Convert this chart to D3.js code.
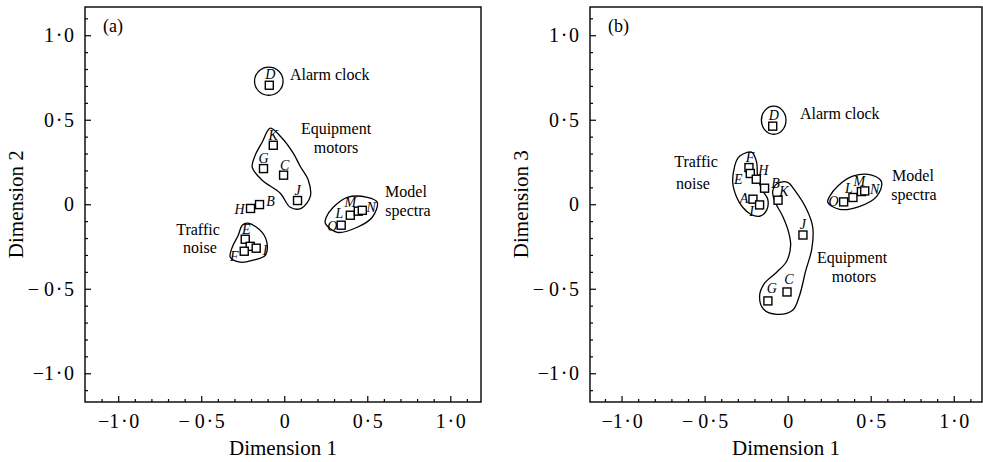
<!DOCTYPE html>
<html>
<head>
<meta charset="utf-8">
<script src="https://cdn.jsdelivr.net/npm/d3@7"></script>
<style>
  body { margin: 0; background: #fff; }
  svg text { font-family: "Liberation Serif", "Times New Roman", serif; fill: #000; }
</style>
</head>
<body>
<div id="chart"></div>
<script>
// ---- data ----
const majorTicks = [-1.0, -0.5, 0, 0.5, 1.0];
const tickLabels = ["\u22121\u200a\u00b7\u200a0", "\u2212 0\u200a\u00b7\u200a5", "0", "0\u200a\u00b7\u200a5", "1\u200a\u00b7\u200a0"];
const minorTicks = [-1.1, -0.9, -0.8, -0.7, -0.6, -0.4, -0.3, -0.2, -0.1, 0.1, 0.2, 0.3, 0.4, 0.6, 0.7, 0.8, 0.9, 1.1];

// panel (a): dimension 1 vs dimension 2
const idsA  = ["D", "K", "G", "C", "J", "H", "B", "E", "A", "F", "I", "O", "L", "M", "N"];
const dim1A = [-0.090, -0.066, -0.125, -0.004, 0.080, -0.203, -0.149, -0.235, -0.205, -0.241, -0.169, 0.343, 0.398, 0.446, 0.470];
const dim2A = [0.704, 0.349, 0.211, 0.172, 0.022, -0.025, -0.002, -0.207, -0.249, -0.278, -0.260, -0.124, -0.065, -0.041, -0.036];

// panel (b): dimension 1 vs dimension 3
const idsB  = ["D", "F", "E", "H", "B", "A", "I", "K", "J", "C", "G", "O", "L", "M", "N"];
const dim1B = [-0.090, -0.233, -0.225, -0.189, -0.139, -0.209, -0.169, -0.058, 0.092, -0.004, -0.119, 0.337, 0.393, 0.444, 0.464];
const dim3B = [0.462, 0.217, 0.182, 0.148, 0.095, 0.030, -0.004, 0.024, -0.182, -0.519, -0.572, 0.014, 0.040, 0.075, 0.079];

// group outlines, in data units
const alarmA = { cx: -0.093, cy: 0.728, rx: 0.086, ry: 0.083 };
const motorsA = [[-0.084, 0.450], [-0.018, 0.396], [0.054, 0.302], [0.096, 0.225], [0.145, 0.142], [0.157, 0.047], [0.102, -0.024], [0.036, -0.018], [-0.024, 0.065], [-0.133, 0.142], [-0.193, 0.219], [-0.175, 0.290], [-0.133, 0.367]];
const trafficA = [[-0.217, -0.112], [-0.133, -0.166], [-0.102, -0.243], [-0.114, -0.302], [-0.187, -0.331], [-0.265, -0.343], [-0.325, -0.314], [-0.313, -0.254], [-0.277, -0.183], [-0.253, -0.124]];
const spectraA = [[0.247, -0.112], [0.319, -0.166], [0.440, -0.136], [0.530, -0.077], [0.560, 0.012], [0.500, 0.041], [0.380, 0.041], [0.295, -0.018], [0.253, -0.077]];

const alarmB = { cx: -0.084, cy: 0.497, rx: 0.074, ry: 0.083 };
const trafficB = [[-0.271, 0.296], [-0.217, 0.308], [-0.187, 0.249], [-0.181, 0.166], [-0.157, 0.089], [-0.120, 0.030], [-0.127, -0.036], [-0.169, -0.071], [-0.223, -0.059], [-0.271, -0.018], [-0.307, 0.041], [-0.331, 0.130], [-0.319, 0.225], [-0.301, 0.272]];
const motorsB = [[-0.060, 0.124], [0.000, 0.130], [0.042, 0.083], [0.114, -0.030], [0.151, -0.136], [0.145, -0.266], [0.108, -0.396], [0.072, -0.538], [0.030, -0.627], [-0.066, -0.651], [-0.145, -0.621], [-0.169, -0.544], [-0.139, -0.467], [-0.066, -0.402], [-0.006, -0.337], [0.018, -0.243], [0.006, -0.166], [-0.030, -0.071], [-0.078, 0.018], [-0.090, 0.077]];
const spectraB = [[0.241, 0.012], [0.313, -0.030], [0.434, -0.012], [0.536, 0.047], [0.566, 0.130], [0.506, 0.172], [0.392, 0.166], [0.301, 0.107], [0.253, 0.047]];

// where each point letter sits relative to its square (px)
const letterOffA = { D: [1, -11], K: [0, -10], G: [0, -10], C: [1, -10], J: [0, -10], H: [-11, 1], B: [11, -3],
  E: [1, -10], F: [-10, 5], I: [9, 2], O: [-9, 1], L: [-11, -2], M: [-8, -9], N: [9, -3] };
const letterOffB = { D: [1, -11], F: [1, -10], E: [-12, 6], H: [7, -9], B: [11, -5], A: [-9, -1], I: [-8, 7], K: [6, -9],
  J: [0, -11], C: [2, -12], G: [4, -12], O: [-10, 0], L: [-4, -9], M: [-2, -10], N: [10, -1] };

const W = 983, H = 462;
const svg = d3.select("#chart").append("svg").attr("width", W).attr("height", H);

function drawPanel(opt) {
    const x = d3.scaleLinear().domain(opt.xDomain).range([opt.left, opt.right]);
    const y = d3.scaleLinear().domain([-1.17, 1.167]).range([opt.bottom, opt.top]);
    const g = svg.append("g");

    // frame
    g.append("rect")
        .attr("x", opt.left).attr("y", opt.top)
        .attr("width", opt.right - opt.left).attr("height", opt.bottom - opt.top)
        .attr("fill", "none").attr("stroke", "#000").attr("stroke-width", 1.4);

    // axes (ticks point inward)
    const fmt = d => tickLabels[majorTicks.indexOf(d)];
    const xAx = g.append("g").attr("transform", `translate(0,${opt.bottom})`)
        .call(d3.axisBottom(x).tickValues(majorTicks).tickFormat(fmt).tickSize(-6).tickPadding(12));
    g.append("g").attr("transform", `translate(0,${opt.bottom})`)
        .call(d3.axisBottom(x).tickValues(minorTicks).tickFormat("").tickSize(-3));
    const yAx = g.append("g").attr("transform", `translate(${opt.left},0)`)
        .call(d3.axisLeft(y).tickValues(majorTicks).tickFormat(fmt).tickSize(-6).tickPadding(11));
    g.append("g").attr("transform", `translate(${opt.left},0)`)
        .call(d3.axisLeft(y).tickValues(minorTicks).tickFormat("").tickSize(-3));
    g.selectAll(".domain").remove();
    g.selectAll(".tick line").attr("stroke", "#000").attr("stroke-width", 1.2);
    g.selectAll(".tick text").style("font-size", "20px").style("font-family", "'Liberation Serif', serif");
    xAx.selectAll(".tick text").attr("dy", "0.71em");

    // axis titles
    g.append("text")
        .attr("x", (opt.left + opt.right) / 2).attr("y", 455)
        .attr("text-anchor", "middle").style("font-size", "21px")
        .text("Dimension 1");
    g.append("text")
        .attr("transform", `translate(${opt.left - 62},${y(0)}) rotate(-90)`)
        .attr("text-anchor", "middle").style("font-size", "21px")
        .text(opt.yTitle);

    // panel tag
    g.append("text")
        .attr("x", opt.left + 18).attr("y", 32)
        .style("font-size", "18px").text(opt.tag);

    // group outlines
    const outline = d3.line()
        .x(d => x(d[0])).y(d => y(d[1]))
        .curve(d3.curveCatmullRomClosed.alpha(0.5));
    g.selectAll("path.group")
        .data(opt.groups)
        .join("path")
        .attr("class", "group")
        .attr("d", outline)
        .attr("fill", "none").attr("stroke", "#000").attr("stroke-width", 1.3);
    g.append("ellipse")
        .attr("cx", x(opt.alarm.cx)).attr("cy", y(opt.alarm.cy))
        .attr("rx", x(opt.alarm.rx) - x(0)).attr("ry", y(0) - y(opt.alarm.ry))
        .attr("fill", "none").attr("stroke", "#000").attr("stroke-width", 1.3);

    // points
    const pts = opt.ids.map((id, i) => ({ id: id, x: opt.xs[i], y: opt.ys[i] }));
    const s = 8;
    g.selectAll("rect.pt")
        .data(pts)
        .join("rect")
        .attr("class", "pt")
        .attr("x", d => x(d.x) - s / 2).attr("y", d => y(d.y) - s / 2)
        .attr("width", s).attr("height", s)
        .attr("fill", "#fff").attr("stroke", "#000").attr("stroke-width", 1.4);

    // point letters
    g.selectAll("text.letter")
        .data(pts.filter(d => opt.letterOff[d.id]))
        .join("text")
        .attr("class", "letter")
        .attr("x", d => x(d.x) + opt.letterOff[d.id][0])
        .attr("y", d => y(d.y) + opt.letterOff[d.id][1])
        .attr("text-anchor", "middle").attr("dominant-baseline", "central")
        .style("font-size", "14px").style("font-style", "italic")
        .text(d => d.id);

    // group names
    g.selectAll("text.note")
        .data(opt.notes)
        .join("text")
        .attr("class", "note")
        .attr("x", d => d[0]).attr("y", d => d[1])
        .attr("text-anchor", d => d[3])
        .style("font-size", "16px")
        .text(d => d[2]);
}

drawPanel({
    left: 85, right: 481, top: 7, bottom: 402,
    xDomain: [-1.2, 1.185],
    yTitle: "Dimension 2", tag: "(a)",
    ids: idsA, xs: dim1A, ys: dim2A, letterOff: letterOffA,
    groups: [motorsA, trafficA, spectraA], alarm: alarmA,
    notes: [[290, 80, "Alarm clock", "start"], [336, 134, "Equipment", "middle"], [336, 153, "motors", "middle"],
            [406, 197, "Model", "middle"], [408, 216, "spectra", "middle"],
            [198, 235, "Traffic", "middle"], [200, 253, "noise", "middle"]]
});

drawPanel({
    left: 590, right: 982, top: 7, bottom: 402,
    xDomain: [-1.19, 1.17],
    yTitle: "Dimension 3", tag: "(b)",
    ids: idsB, xs: dim1B, ys: dim3B, letterOff: letterOffB,
    groups: [trafficB, motorsB, spectraB], alarm: alarmB,
    notes: [[800, 119, "Alarm clock", "start"], [852, 263, "Equipment", "middle"], [854, 282, "motors", "middle"],
            [913, 181, "Model", "middle"], [914, 200, "spectra", "middle"],
            [696, 167, "Traffic", "middle"], [693, 189, "noise", "middle"]]
});
</script>
</body>
</html>
